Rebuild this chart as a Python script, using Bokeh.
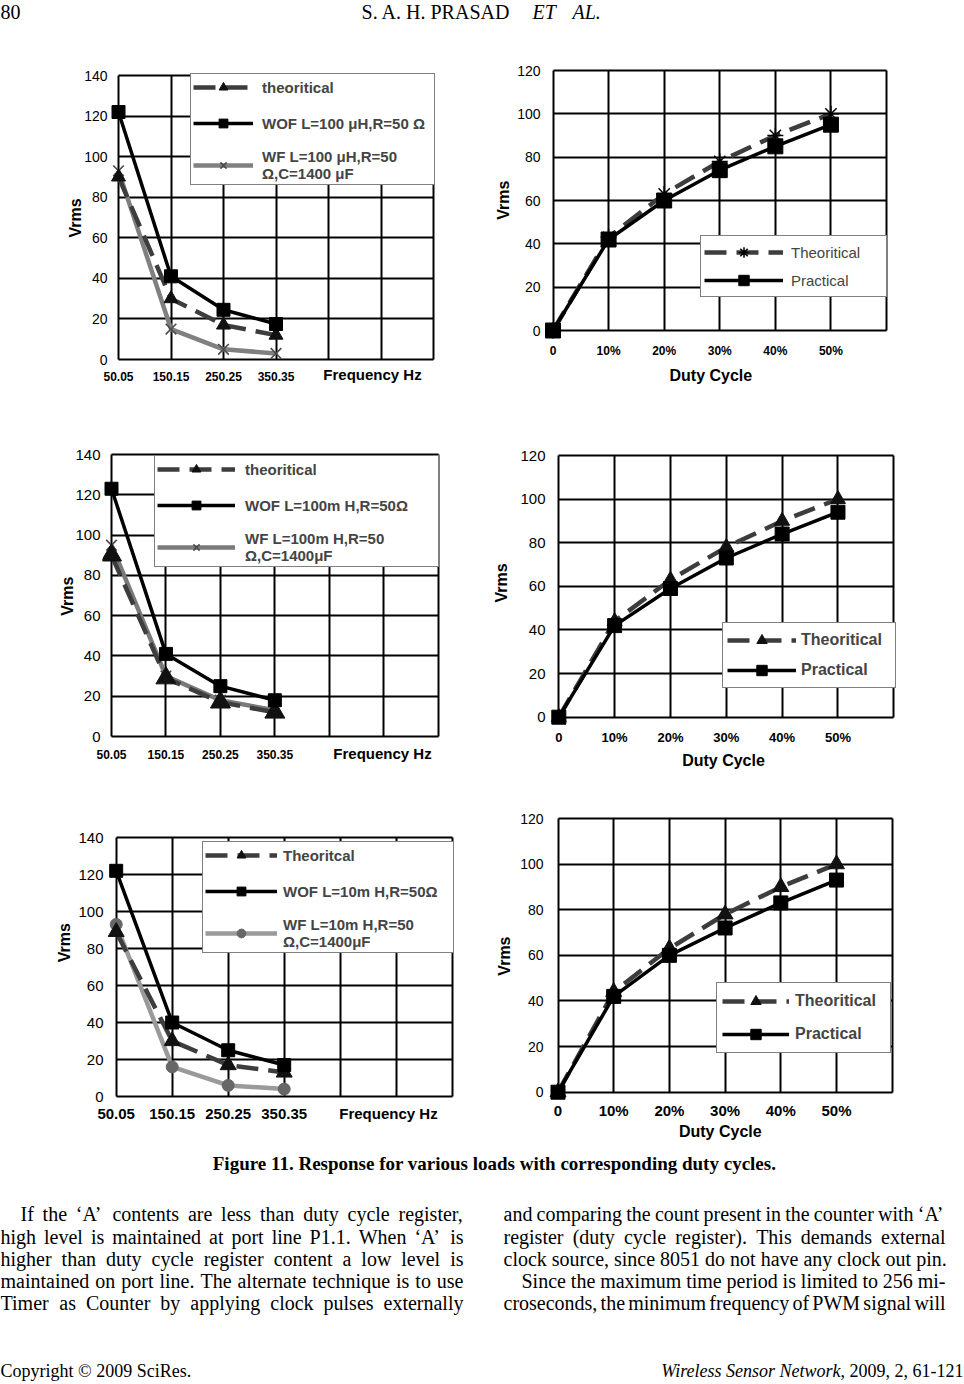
import math
from bokeh.plotting import figure
from bokeh.layouts import column, row
from bokeh.models import Range1d, FixedTicker, Legend, LegendItem, Grid, LinearAxis
from bokeh.core.properties import value
from bokeh.embed import file_html
from bokeh.resources import INLINE

# ---------------- data ----------------
freq_labels = ["50.05", "150.15", "250.25", "350.35"]
duty_labels = ["0", "10%", "20%", "30%", "40%", "50%"]

c1_theoretical = [90, 30, 17, 12]
c1_wof = [122, 41, 24.5, 17.5]
c1_wf = [93, 15, 5, 3]

c2_theoretical = [0, 43, 63, 78, 90, 100]
c2_practical = [0, 42, 60, 74, 85, 95]

c3_theoretical = [90, 29, 17, 12]
c3_wof = [123, 41, 25, 18]
c3_wf = [95, 30, 18, 13]

c4_theoretical = [0, 44, 63, 78, 90, 100]
c4_practical = [0, 42, 59, 73, 84, 94]

c5_theoretical = [89, 30, 17, 13]
c5_wof = [122, 40, 25, 17]
c5_wf = [93, 16, 6, 4]

c6_theoretical = [0, 44, 63, 78, 90, 100]
c6_practical = [0, 42, 60, 72, 83, 93]

c1_names = ["theoritical", "WOF L=100 \u03bcH,R=50 \u03a9", "WF L=100 \u03bcH,R=50\n\u03a9,C=1400 \u03bcF"]
c3_names = ["theoritical", "WOF L=100m H,R=50\u03a9", "WF L=100m H,R=50\n\u03a9,C=1400\u03bcF"]
c5_names = ["Theoritcal", "WOF L=10m H,R=50\u03a9", "WF L=10m H,R=50\n\u03a9,C=1400\u03bcF"]
duty_names = ["Theoritical", "Practical"]
y_title = "Vrms"
freq_title = "Frequency Hz"
duty_title = "Duty Cycle"

header_left = ["80"]
header_center = ["S. A. H. PRASAD"]
header_italic = ["ET", "AL."]
caption = ["Figure 11. Response for various loads with corresponding duty cycles."]
body_left = [
    "If the \u2018A\u2019 contents are less than duty cycle register,",
    "high level is maintained at port line P1.1. When \u2018A\u2019 is",
    "higher than duty cycle register content a low level is",
    "maintained on port line. The alternate technique is to use",
    "Timer as Counter by applying clock pulses externally",
]
body_right = [
    "and comparing the count present in the counter with \u2018A\u2019",
    "register (duty cycle register). This demands external",
    "clock source, since 8051 do not have any clock out pin.",
    "Since the maximum time period is limited to 256 mi-",
    "croseconds, the minimum frequency of PWM signal will",
]
footer_left = ["Copyright \u00a9 2009 SciRes."]
footer_italic = ["Wireless Sensor Network"]
footer_right = [", 2009, 2, 61-121"]

SANS = "Liberation Sans"
SERIF = "Liberation Serif"
THEO_COLOR = "#3d3d3d"
THEO_DASH = "22 10"
NBSP = "\u00a0"
H = 1.15  # text box height / font size used by the axis layout

# Times-Roman advance widths (1/1000 em) for justified page text
TIMES = {" ": 250, ".": 250, ",": 250, "-": 333, "(": 333, ")": 333, "\u2018": 333, "\u2019": 333,
         ":": 278, "\u00a9": 760}
for ch in "0123456789":
    TIMES[ch] = 500
TIMES.update(dict(zip("ABCDEFGHIJKLMNOPQRSTUVWXYZ",
                      [722, 667, 667, 722, 611, 556, 722, 722, 333, 389, 722, 611, 889, 722, 722,
                       556, 722, 667, 556, 611, 722, 722, 944, 722, 722, 611])))
TIMES.update(dict(zip("abcdefghijklmnopqrstuvwxyz",
                      [444, 500, 444, 500, 444, 333, 500, 500, 278, 278, 500, 278, 778, 500, 500,
                       500, 500, 333, 389, 278, 500, 500, 722, 500, 500, 444])))


def times_width(s, size):
    return sum(TIMES.get(ch, 500) for ch in s) * size / 1000.0


def style_axis(ax):
    ax.axis_line_color = None
    ax.major_tick_line_color = None
    ax.minor_tick_line_color = None
    ax.major_tick_out = 0
    ax.major_tick_in = 0
    ax.major_label_text_font = SANS
    ax.axis_label_text_font = SANS
    ax.axis_label_text_font_style = "bold"
    ax.axis_label_text_color = "black"
    ax.major_label_text_color = "black"


def chart(width, height, fig_left, fig_top, x0, x6, y0, ytop, ymax, ft, fb, pl=9, pr=4):
    dx = (x6 - x0) / 6.0
    dy = (y0 - ytop) / float(ymax)
    fl = int(round(x0 - pl)); fr = int(round(x6 + pr))
    p = figure(width=width, height=height, output_backend="svg", toolbar_location=None,
               x_range=Range1d((fl - x0) / dx, (fr - x0) / dx),
               y_range=Range1d((y0 - fb) / dy, (y0 - ft) / dy),
               min_border_left=fl - fig_left, min_border_right=fig_left + width - fr,
               min_border_top=ft - fig_top, min_border_bottom=fig_top + height - fb)
    p.outline_line_color = None
    p.background_fill_color = "white"
    p.border_fill_color = "white"
    p.xgrid.ticker = FixedTicker(ticks=list(range(7)))
    p.ygrid.ticker = FixedTicker(ticks=list(range(0, ymax + 1, 20)))
    for g in list(p.xgrid) + list(p.ygrid):
        g.grid_line_color = "black"
        g.grid_line_width = 2
    if "cross_bounds" in Grid.properties():
        for g in p.xgrid:
            g.cross_bounds = (0, ymax)
        for g in p.ygrid:
            g.cross_bounds = (0, 6)
    for ax in list(p.xaxis) + list(p.yaxis):
        style_axis(ax)
    xa = p.xaxis[0]
    xa.major_label_text_font_style = "bold"
    ya = p.yaxis[0]
    ya.ticker = FixedTicker(ticks=list(range(0, ymax + 1, 20)))
    geo = dict(x0=x0, y0=y0, dx=dx, dy=dy, fl=fl, fr=fr, ft=ft, fb=fb)
    return p, geo, xa, ya


def x_axis_setup(xa, geo, xtick_px, tick_cy):
    xa.major_label_text_font_size = "%dpx" % xtick_px
    stand = int(round(tick_cy - 0.5 * H * xtick_px - geo["fb"]))
    xa.major_label_standoff = stand
    return stand + H * xtick_px  # extent of the tick-label band below the frame


def y_axis_setup(ya, geo, ytick_px, ystand, vrms_cx, vrms_cy):
    ya.major_label_text_font_size = "%dpx" % ytick_px
    ya.major_label_standoff = ystand
    label_w = 3 * 0.556 * ytick_px
    ya.axis_label_standoff = int(round((geo["fl"] - ystand - label_w) - (vrms_cx + 0.5 * H * 16)))
    shift = (geo["ft"] + geo["fb"]) / 2.0 - vrms_cy
    n = int(round(abs(2 * shift) / (0.278 * 16)))
    ya.axis_label = (NBSP * n + y_title) if shift > 0 else (y_title + NBSP * n)
    ya.axis_label_text_font_size = "16px"


def add_legend(p, geo, items, box_left, box_bottom, font_size, style, padding, spacing,
               glyph_w, glyph_h, standoff, label_w):
    leg = Legend(items=items, location=(box_left - geo["fl"], geo["fb"] - box_bottom),
                 border_line_color="black", border_line_width=1,
                 background_fill_color="white", background_fill_alpha=1.0,
                 label_text_font=SANS, label_text_font_size=font_size,
                 label_text_font_style=style, padding=padding, spacing=spacing,
                 glyph_width=glyph_w, glyph_height=glyph_h, label_height=glyph_h,
                 label_standoff=standoff, label_width=label_w, margin=0)
    p.add_layout(leg)


def freq_chart(width, height, fig_left, fig_top, x0, x6, y0, ytop, ft, fb, theo, wof, wf, names,
               ytick_px, xtick_px, ystand, tick_cy, tri_size, wf_marker, wf_line_color,
               wf_mark_color, wf_size, vrms_cx, vrms_cy, title_cx, title_cy, title_on_main,
               leg_box, leg_font, leg_pad, leg_sp, leg_gw, leg_gh, leg_st, leg_lw):
    p, geo, xa, ya = chart(width, height, fig_left, fig_top, x0, x6, y0, ytop, 140, ft, fb)
    xs = list(range(len(freq_labels)))
    t_pos = round((title_cx - x0) / geo["dx"], 3)
    overrides = {i: lab for i, lab in enumerate(freq_labels)}
    band = x_axis_setup(xa, geo, xtick_px, tick_cy)
    if title_on_main:
        xa.ticker = FixedTicker(ticks=xs + [t_pos])
        overrides[t_pos] = freq_title
    else:
        xa.ticker = FixedTicker(ticks=xs)
        extra = LinearAxis(ticker=FixedTicker(ticks=[t_pos]),
                           major_label_overrides={t_pos: freq_title})
        style_axis(extra)
        extra.major_label_text_font_size = "15px"
        extra.major_label_text_font_style = "bold"
        extra.major_label_standoff = int(round(title_cy - 0.5 * H * 15 - (fb + band)))
        p.add_layout(extra, "below")
    xa.major_label_overrides = overrides
    y_axis_setup(ya, geo, ytick_px, ystand, vrms_cx, vrms_cy)

    wf_l = p.line(xs, wf, line_color=wf_line_color, line_width=4.5)
    if wf_marker == "x":
        wf_m = p.scatter(xs, wf, marker="x", size=wf_size, line_color=wf_mark_color, line_width=1.6)
    else:
        wf_m = p.scatter(xs, wf, marker="circle", size=wf_size, fill_color=wf_mark_color,
                         line_color=wf_mark_color)
    th_l = p.line(xs, theo, line_color=THEO_COLOR, line_width=4.5, line_dash=THEO_DASH)
    th_m = p.scatter(xs, theo, marker="triangle", size=tri_size, fill_color="#111111",
                     line_color="#111111")
    wo_l = p.line(xs, wof, line_color="black", line_width=3.5)
    wo_m = p.scatter(xs, wof, marker="square", size=13, fill_color="black", line_color="black")

    items = [LegendItem(label=names[0], renderers=[th_l, th_m]),
             LegendItem(label=names[1], renderers=[wo_l, wo_m]),
             LegendItem(label=names[2], renderers=[wf_l, wf_m])]
    add_legend(p, geo, items, leg_box[0], leg_box[1], leg_font, "bold", leg_pad, leg_sp,
               leg_gw, leg_gh, leg_st, leg_lw)
    return p


def duty_chart(width, height, fig_left, fig_top, x0, x6, y0, ytop, ft, fb, theo, prac,
               ytick_px, xtick_px, ystand, tick_cy, theo_marker, theo_size, sq_size,
               vrms_cx, vrms_cy, title_cx, title_cy, leg_box, leg_font, leg_style, leg_pad,
               leg_sp, leg_gw, leg_gh, leg_st, leg_lw):
    p, geo, xa, ya = chart(width, height, fig_left, fig_top, x0, x6, y0, ytop, 120, ft, fb)
    xs = list(range(len(duty_labels)))
    xa.ticker = FixedTicker(ticks=xs)
    xa.major_label_overrides = {i: lab for i, lab in enumerate(duty_labels)}
    band = x_axis_setup(xa, geo, xtick_px, tick_cy)
    title_top = title_cy - 0.5 * H * 16
    xa.axis_label_standoff = int(round(title_top - (fb + band)))
    shift = (geo["fl"] + geo["fr"]) / 2.0 - title_cx
    n = int(round(abs(2 * shift) / (0.278 * 16)))
    xa.axis_label = (duty_title + NBSP * n) if shift > 0 else (NBSP * n + duty_title)
    xa.axis_label_text_font_size = "16px"
    y_axis_setup(ya, geo, ytick_px, ystand, vrms_cx, vrms_cy)

    th_l = p.line(xs, theo, line_color=THEO_COLOR, line_width=4.5, line_dash=THEO_DASH)
    if theo_marker == "asterisk":
        th_m = p.scatter(xs, theo, marker="asterisk", size=theo_size, line_color="black",
                         line_width=1.5)
    else:
        th_m = p.scatter(xs, theo, marker="triangle", size=theo_size, fill_color="#111111",
                         line_color="#111111")
    pr_l = p.line(xs, prac, line_color="black", line_width=3.5)
    pr_m = p.scatter(xs, prac, marker="square", size=sq_size, fill_color="black",
                     line_color="black")
    items = [LegendItem(label=duty_names[0], renderers=[th_l, th_m]),
             LegendItem(label=duty_names[1], renderers=[pr_l, pr_m])]
    add_legend(p, geo, items, leg_box[0], leg_box[1], leg_font, leg_style, leg_pad, leg_sp,
               leg_gw, leg_gh, leg_st, leg_lw)
    return p


def text_figure(x_lo, x_hi, y_top, y_bot):
    p = figure(width=x_hi - x_lo, height=y_bot - y_top, output_backend="svg",
               toolbar_location=None, x_range=Range1d(x_lo, x_hi),
               y_range=Range1d(y_bot, y_top), x_axis_location=None, y_axis_location=None,
               min_border=0)
    p.grid.visible = False
    p.outline_line_color = None
    p.background_fill_color = "white"
    p.border_fill_color = "white"
    return p


def put_text(p, xs, ys, texts, size, align="left", style="normal"):
    p.text(x=xs, y=ys, text=texts, text_font=value(SERIF), text_font_size=size,
           text_align=align, text_baseline="middle", text_color="black",
           text_font_style=style)


def put_justified(p, line, left, right, y, size, justify=True):
    if not justify:
        put_text(p, [left], [y], [line], "%dpx" % size)
        return
    words = line.split(" ")
    widths = [times_width(w, size) for w in words]
    gap = (right - left - sum(widths)) / (len(words) - 1)
    xs, x = [], left
    for w in widths:
        xs.append(x)
        x += w + gap
    put_text(p, xs, [y] * len(words), words, "%dpx" % size)


# ---------------- layout bands ----------------
W_LEFT, W_RIGHT = 478, 486
B0, B1, B2, B3 = 40, 430, 805, 1150
ROW1_FT, ROW1_FB = 66, 369     # common frame (top/bottom) of the two charts of a row
ROW2_FT, ROW2_FB = 450, 746
ROW3_FT, ROW3_FB = 814, 1106

# ---------------- header ----------------
header = text_figure(0, 964, 0, B0)
put_text(header, [0], [11], header_left, "20px")
put_text(header, [510], [11], header_center, "20px", align="right")
put_text(header, [532, 572], [11, 11], header_italic, "20px", style="italic")

# ---------------- charts ----------------
c1 = freq_chart(W_LEFT, B1 - B0, 0, B0, 118, 433, 359, 75, ROW1_FT, ROW1_FB,
                c1_theoretical, c1_wof, c1_wf, c1_names,
                14, 12, 2, 378, 14, "x", "#808080", "#4a4a4a", 15,
                77.5, 218, 372, 375, False,
                (190, 185), "15px", 2, 14, 60, 22, 9, 170)
c2 = duty_chart(W_RIGHT, B1 - B0, W_LEFT, B0, 552.5, 886, 330, 70, ROW1_FT, ROW1_FB,
                c2_theoretical, c2_practical,
                14, 12, 4, 350, "asterisk", 16, 15,
                505, 200, 710, 371.7, (700, 297), "15px", "normal", 3, 2, 79, 26, 8, 92)
c3 = freq_chart(W_LEFT, B2 - B1, 0, B1, 111, 437.7, 736, 454, ROW2_FT, ROW2_FB,
                c3_theoretical, c3_wof, c3_wf, c3_names,
                15, 12, 2, 755.5, 20, "x", "#7a7a7a", "#4a4a4a", 15,
                70, 596, 382, 754, False,
                (154, 567), "15px", 2, 14, 78, 22, 10, 191)
c4 = duty_chart(W_RIGHT, B2 - B1, W_LEFT, B1, 558.3, 893.3, 716.7, 455, ROW2_FT, ROW2_FB,
                c4_theoretical, c4_practical,
                15, 13, 4, 736.7, "triangle", 15, 14,
                503.5, 583, 722, 756.7, (722, 688), "16px", "bold", 4, 4, 69, 26, 5, 90)
c5 = freq_chart(W_LEFT, B3 - B2, 0, B2, 115.7, 451.7, 1096, 837, ROW3_FT, ROW3_FB,
                c5_theoretical, c5_wof, c5_wf, c5_names,
                15, 15, 4, 1112.5, 16, "circle", "#9a9a9a", "#676767", 12,
                66.7, 943, 388, 1112.5, True,
                (202, 953), "15px", 2, 14, 72, 22, 6, 168)
c6 = duty_chart(W_RIGHT, B3 - B2, W_LEFT, B2, 557.5, 891.7, 1091.7, 818, ROW3_FT, ROW3_FB,
                c6_theoretical, c6_practical,
                14, 15, 5, 1110, "triangle", 16, 14,
                506.7, 955, 720, 1128.3, (716, 1053), "16px", "bold", 5, 7, 67, 26, 6, 90)

# ---------------- caption / body / footer ----------------
footer = text_figure(0, 964, B3, 1384)
put_text(footer, [494], [1163], caption, "19px", align="center", style="bold")
BODY_Y = [1213, 1236, 1258, 1280, 1302]
left_starts = [20, 0, 0, 0, 0]
for line, x, y in zip(body_left, left_starts, BODY_Y):
    put_justified(footer, line, x, 463, y, 20)
right_starts = [503, 503, 503, 521, 503]
right_just = [True, True, False, True, True]
for line, x, y, j in zip(body_right, right_starts, BODY_Y, right_just):
    put_justified(footer, line, x, 945, y, 20, justify=j)
put_text(footer, [0], [1370], footer_left, "18px")
right_w = times_width(footer_right[0], 18)
put_text(footer, [963 - right_w], [1370], footer_italic, "18px", align="right", style="italic")
put_text(footer, [963], [1370], footer_right, "18px", align="right")

layout = column(header, row(c1, c2), row(c3, c4), row(c5, c6), footer)
open("out.html", "w").write(file_html(layout, INLINE))
